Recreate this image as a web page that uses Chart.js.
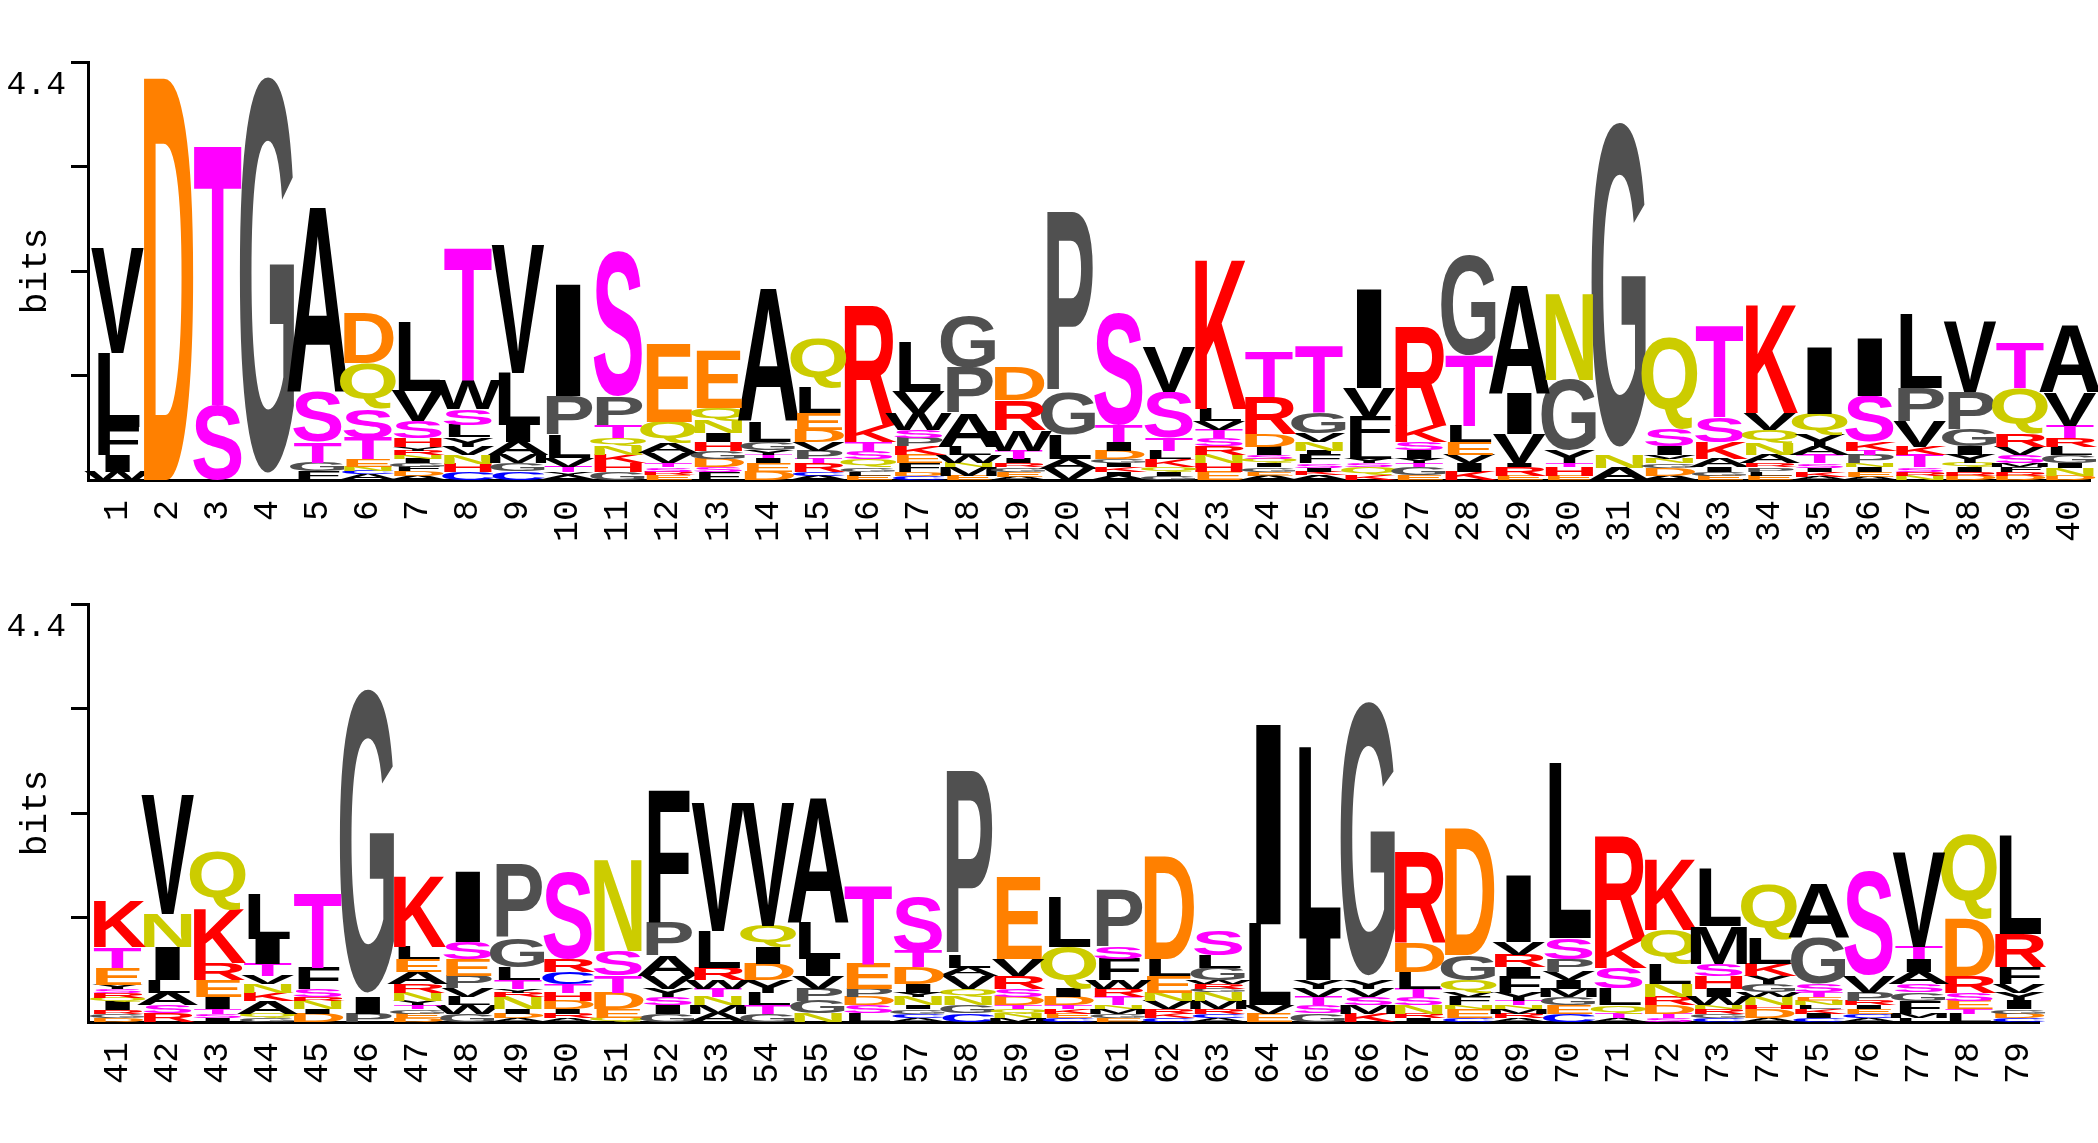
<!DOCTYPE html>
<html>
<head>
<meta charset="utf-8">
<title>Sequence logo</title>
<script src="https://cdn.jsdelivr.net/npm/chart.js@4"></script>
<style>
    html, body { margin: 0; padding: 0; background: #fff; }
    canvas { position: absolute; left: 0; }
    #logoTop { top: 0; }
    #logoBottom { top: 560px; }
</style>
</head>
<body>
<canvas id="logoTop" width="2098" height="560"></canvas>
<canvas id="logoBottom" width="2098" height="583"></canvas>
<script>
const yTicks = [1.1, 2.2, 3.3, 4.4];
const yTopLabel = '4.4';
const yTitle = 'bits';

const positionsTop = [];
for (let i = 1; i <= 40; i++) positionsTop.push(i);
const positionsBottom = [];
for (let i = 41; i <= 79; i++) positionsBottom.push(i);

// letters of each position, bottom of the stack first (space = empty gap under a G)
const lettersTop = [
    'WIFLV', 'D', 'ST', ' G', 'FGTSA', 'ACNETSQD', 'ADFGINRYHSVL', 'CHNVYLSWT', 'CGMAILV', 'AYTVLPI',
    'GHKNQTPS', 'ERSTVAQE', 'FSDGHINQE', 'DEITYGLA', 'ACRTPVDELQ', 'ELGQSTKR', 'CDFEKPSWVL', 'EMNWLAPG', 'AEGRITWRD', 'VALGP',
    'AIKIGDITS', 'GIQKLTSV', 'EHNRSTVLK', 'AEGIQSIDRT', 'AKISFINVGT', 'KQSYLFVI', 'EGTYISKR', 'KIVELTG', 'ERIVIA', 'EHTYGN',
    'AN G', 'ADGNVISQ', 'EGIAKST', 'ELPRANQVK', 'AKISTAYQI', 'AEINPTKSI', 'NRSTKVPL', 'DRIQYIGPV', 'DRFMSVRQT', 'DNIGLRTVA'
];
const bitsTop = [
    [.088, .176, .298, .779, 1.099], [4.22], [.79, 2.714], [.063, 4.185], [.088, .095, .214, .534, 1.931],
    [.06, .035, .046, .077, .221, .309, .481, .52],
    [.046, .049, .046, .035, .046, .042, .046, .042, .088, .176, .316, .72],
    [.081, .088, .095, .088, .098, .13, .169, .305, 1.38],
    [.088, .088, .088, .14, .176, .551, 1.345],
    [.046, .035, .06, .088, .246, .404, 1.166],
    [.088, .088, .088, .095, .081, .133, .305, 1.534],
    [.053, .035, .046, .042, .105, .112, .221, .818],
    [.081, .053, .088, .088, .088, .095, .13, .133, .597],
    [.088, .088, .053, .035, .046, .088, .218, 1.38],
    [.046, .042, .088, .046, .088, .088, .13, .176, .263, .527],
    [.046, .042, .046, .088, .088, .088, .176, 1.253],
    [.046, .042, .088, .088, .088, .088, .088, .176, .221, .516],
    [.046, .088, .049, .081, .088, .351, .481, .537],
    [.035, .053, .046, .042, .046, .088, .218, .309, .348],
    [.116, .105, .26, .442, 1.896],
    [.046, .042, .046, .042, .046, .088, .088, .176, 1.183],
    [.046, .042, .053, .081, .088, .13, .485, .474],
    [.088, .088, .088, .088, .088, .088, .088, .133, 1.552],
    [.046, .042, .046, .042, .046, .042, .088, .133, .393, .474],
    [.053, .035, .042, .046, .088, .046, .088, .088, .218, .695],
    [.053, .081, .042, .046, .176, .263, .305, 1.036],
    [.046, .088, .042, .046, .088, .088, .176, 1.036],
    [.088, .088, .088, .133, .176, .737, 1.06],
    [.046, .088, .042, .309, .428, 1.131],
    [.046, .088, .042, .133, .744, .906],
    [.13, .133, .077, 3.427],
    [.046, .084, .046, .046, .042, .088, .176, .966],
    [.046, .042, .046, .088, .176, .26, .958],
    [.046, .042, .046, .042, .088, .123, .14, .176, 1.124],
    [.035, .053, .042, .046, .088, .088, .13, .218, .699],
    [.035, .053, .046, .042, .088, .046, .088, .481, .604],
    [.046, .042, .046, .13, .088, .263, .351, .772],
    [.046, .042, .046, .042, .088, .088, .176, .397, .734],
    [.046, .042, .046, .042, .088, .088, .133, .481, .474],
    [.046, .084, .046, .088, .088, .088, .133, .351, .692]
];

const lettersBottom = [
    'DGRIQRSYETK', 'RSALINV', 'ISTIERKQ', 'GQAKNVTIL', 'DINRSFT', 'PI G', 'DEGTYNRAELK', 'GWLVPESI', 'ADINRYTLGP', 'ARIDHTCRS',
    'QEDTSN', 'GISYVAPF', 'AMNTWRLV', 'GTLYDIQV', 'NGPVILA', 'LSDPET', 'ACGINYIDTS', 'CGNQVALP', 'MNQTDSRVE', 'CEKTDIQL',
    'EGMNTRWFSP', 'CKRVNELD', 'ACRMNGRWGLS', 'EVLI', 'GSTVYIL', 'KMSVY G', 'IRNSTLDR', 'CENFVQGD', 'ARMNTYFIRVI', 'CEGMIVPSL',
    'ATQLSKR', 'STDRNLQK', 'CGRNWIHSML', 'ADHNWGYKLQ', 'CIKLNETSGA', 'ACEIRPVS', 'LMFGSAITV', 'LTESRDQ', 'CDGIYVFRL'
];
const bitsBottom = [
    [.042, .046, .039, .088, .042, .046, .042, .046, .176, .218, .481],
    [.088, .088, .133, .13, .351, .351, 1.253],
    [.042, .046, .046, .13, .176, .176, .562, .621],
    [.042, .046, .133, .088, .088, .088, .13, .263, .474],
    [.088, .046, .088, .042, .088, .221, .779],
    [.088, .176, .035, 3.206],
    [.042, .046, .046, .042, .046, .088, .088, .13, .133, .13, .737],
    [.088, .088, .088, .088, .133, .176, .176, .734],
    [.042, .046, .046, .13, .046, .042, .088, .133, .305, .772],
    [.042, .046, .046, .088, .088, .088, .13, .133, .913],
    [.042, .091, .176, .176, .263, .948],
    [.088, .088, .088, .088, .133, .218, .351, 1.38],
    [.088, .088, .088, .088, .088, .133, .386, 1.341],
    [.088, .088, .133, .13, .176, .176, .221, 1.296],
    [.088, .133, .13, .133, .176, .383, 1.303],
    [.088, .088, .088, .088, .263, .825],
    [.042, .046, .046, .042, .088, .046, .088, .176, .176, .576],
    [.088, .088, .088, .088, .133, .088, .13, 1.938],
    [.042, .046, .046, .042, .088, .088, .133, .176, .86],
    [.042, .046, .046, .042, .088, .088, .439, .516],
    [.042, .046, .046, .042, .088, .088, .088, .221, .13, .607],
    [.042, .046, .046, .088, .088, .176, .176, 1.078],
    [.042, .046, .046, .088, .088, .042, .046, .042, .133, .13, .263],
    [.088, .088, .853, 2.096],
    [.088, .088, .088, .088, .088, .439, 2.012],
    [.088, .088, .088, .088, .088, .042, 2.89],
    [.042, .046, .088, .088, .088, .176, .309, .948],
    [.042, .091, .042, .088, .046, .13, .263, 1.334],
    [.042, .046, .046, .042, .046, .088, .176, .088, .13, .133, .692],
    [.088, .088, .088, .088, .088, .088, .133, .218, 1.836],
    [.042, .046, .088, .176, .221, .305, 1.078],
    [.042, .046, .088, .088, .133, .218, .351, .737],
    [.042, .046, .046, .042, .088, .088, .133, .13, .393, .6],
    [.042, .091, .042, .088, .046, .088, .088, .13, .263, .572],
    [.042, .046, .046, .042, .046, .042, .046, .088, .481, .562],
    [.042, .046, .046, .042, .046, .088, .176, 1.095],
    [.042, .046, .133, .088, .088, .13, .133, .13, .99],
    [.088, .046, .088, .088, .176, .604, .888],
    [.042, .046, .046, .088, .088, .088, .176, .348, 1.029]
];

const letterColors = {
    A: '#000000', F: '#000000', I: '#000000', L: '#000000', M: '#000000', V: '#000000', W: '#000000', Y: '#000000',
    G: '#505050', P: '#505050',
    S: '#ff00ff', T: '#ff00ff',
    D: '#ff8000', E: '#ff8000',
    H: '#ff0000', K: '#ff0000', R: '#ff0000',
    N: '#cccc00', Q: '#cccc00',
    C: '#0000ff'
};

const LETTER_FONT = "bold 80px 'Liberation Sans'";
const AXIS_FONT = 'Liberation Mono';
// the reference font is wider or narrower than ours for these letters
const letterWiden = { I: 2.1, A: 1.13, W: 0.88 };

// stretches every letter into the box of its stacked bar
const letterPlugin = {
    id: 'letters',
    afterDatasetsDraw(chart) {
        const ctx = chart.ctx;
        const letters = chart.options.plugins.letters.rows;
        chart.data.datasets.forEach(function (ds, level) {
            chart.getDatasetMeta(level).data.forEach(function (bar, col) {
                const ch = letters[col][level];
                if (!ch || ch === ' ') return;
                const top = bar.y;
                const bottom = bar.base;
                ctx.save();
                ctx.font = LETTER_FONT;
                ctx.textAlign = 'center';
                ctx.textBaseline = 'alphabetic';
                ctx.fillStyle = letterColors[ch];
                const m = ctx.measureText(ch);
                const inkH = m.actualBoundingBoxAscent + m.actualBoundingBoxDescent;
                ctx.translate(bar.x, bottom);
                ctx.scale(letterWiden[ch] || 1, (bottom - top) / inkH);
                ctx.fillText(ch, 0, -m.actualBoundingBoxDescent);
                ctx.restore();
            });
        });
    }
};

function drawLogo(id, positions, letters, bits, xMin, xMax, padTop, padRight, xAxisHeight) {
    let levels = 0;
    bits.forEach(function (col) { levels = Math.max(levels, col.length); });
    const datasets = [];
    for (let lv = 0; lv < levels; lv++) {
        datasets.push({
            data: positions.map(function (p, i) { return { x: p, y: bits[i][lv] || 0 }; }),
            backgroundColor: 'rgba(0,0,0,0)',
            borderWidth: 0,
            barPercentage: 1,
            categoryPercentage: 1
        });
    }
    return new Chart(document.getElementById(id), {
        type: 'bar',
        data: { datasets: datasets },
        plugins: [letterPlugin],
        options: {
            responsive: false,
            animation: false,
            layout: { padding: { top: padTop, right: padRight, bottom: 0, left: 0 } },
            plugins: { legend: { display: false }, tooltip: { enabled: false }, letters: { rows: letters } },
            scales: {
                x: {
                    type: 'linear',
                    offset: false,
                    stacked: true,
                    min: xMin,
                    max: xMax,
                    afterBuildTicks: function (s) { s.ticks = positions.map(function (p) { return { value: p }; }); },
                    afterFit: function (s) {
                        s.height = xAxisHeight;
                        s.paddingLeft = 0;
                        s.paddingRight = 0;
                    },
                    grid: { display: false, drawTicks: false },
                    border: { display: true, color: '#000', width: 3 },
                    ticks: {
                        autoSkip: false,
                        minRotation: 90,
                        maxRotation: 90,
                        padding: 20,
                        color: '#000',
                        font: { family: AXIS_FONT, size: 35 },
                        callback: function (v) { return String(v); }
                    }
                },
                y: {
                    stacked: true,
                    min: 0,
                    max: 4.4,
                    afterBuildTicks: function (s) { s.ticks = yTicks.map(function (v) { return { value: v }; }); },
                    afterFit: function (s) { s.width = 88; },
                    grid: { drawOnChartArea: false, drawTicks: true, tickLength: 17, lineWidth: 3, color: '#000' },
                    border: { display: true, color: '#000', width: 3 },
                    title: {
                        display: true,
                        text: yTitle,
                        color: '#000',
                        padding: { top: 18, bottom: 0 },
                        font: { family: AXIS_FONT, size: 36, lineHeight: 1 }
                    },
                    ticks: {
                        padding: 5,
                        color: '#000',
                        font: { family: AXIS_FONT, size: 33, lineHeight: 0.72 },
                        // the top label sits one line under its tick mark
                        callback: function (v) { return v === 4.4 ? ['', '', yTopLabel] : ''; }
                    }
                }
            }
        }
    });
}

drawLogo('logoTop', positionsTop, lettersTop, bitsTop, 0.41, 40.4, 62, 8, 80);
drawLogo('logoBottom', positionsBottom, lettersBottom, bitsBottom, 40.41, 79.4, 44, 59, 121);
</script>
</body>
</html>
